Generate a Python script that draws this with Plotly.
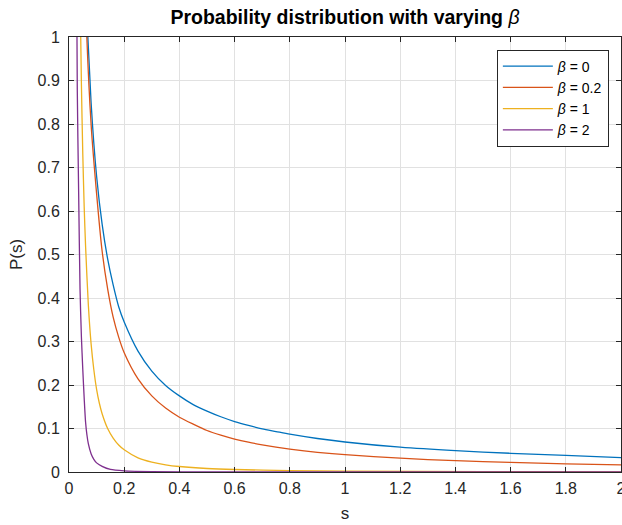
import plotly.graph_objects as go

# ---- data ----
s_b0 = [0.04, 0.06, 0.08, 0.10, 0.12, 0.14, 0.16, 0.18, 0.20, 0.25, 0.30, 0.35, 0.40, 0.45,
        0.50, 0.55, 0.60, 0.65, 0.70, 0.75, 0.80, 0.90, 1.00, 1.20, 1.40, 1.60, 1.80, 2.00]
p_b0 = [1.70, 1.13, 0.85, 0.68, 0.57, 0.49, 0.43, 0.38, 0.345, 0.278, 0.232, 0.199, 0.175, 0.155,
        0.14, 0.127, 0.116, 0.107, 0.099, 0.093, 0.087, 0.077, 0.069, 0.057, 0.049, 0.043, 0.038, 0.033]

s_b02 = [0.04, 0.06, 0.08, 0.10, 0.12, 0.14, 0.16, 0.18, 0.20, 0.25, 0.30, 0.35, 0.40, 0.45,
         0.50, 0.55, 0.60, 0.65, 0.70, 0.75, 0.80, 0.90, 1.00, 1.20, 1.40, 1.60, 1.80, 2.00]
p_b02 = [1.65, 1.08, 0.80, 0.64, 0.508, 0.421, 0.356, 0.310, 0.274, 0.214, 0.175, 0.147, 0.126, 0.110,
         0.0954, 0.0848, 0.0758, 0.0685, 0.0624, 0.0570, 0.0525, 0.0453, 0.0398, 0.0317, 0.0260,
         0.0220, 0.0189, 0.0164]

s_b1 = [0.035, 0.04, 0.045, 0.05, 0.055, 0.06, 0.07, 0.08, 0.09, 0.10, 0.11, 0.12, 0.14,
        0.16, 0.18, 0.20, 0.25, 0.30, 0.35, 0.40, 0.50, 0.60, 0.80, 1.00, 1.50, 2.00]
p_b1 = [1.45, 1.12, 0.89, 0.73, 0.61, 0.52, 0.385, 0.295, 0.235, 0.19, 0.158, 0.134, 0.100,
        0.078, 0.062, 0.051, 0.0326, 0.0227, 0.0166, 0.0127, 0.0081, 0.0057, 0.0032, 0.0021, 0.0009, 0.0005]

s_b2 = [0.02, 0.025, 0.03, 0.035, 0.04, 0.045, 0.05, 0.055, 0.06, 0.065, 0.07, 0.08, 0.09, 0.10,
        0.12, 0.15, 0.20, 0.30, 0.50, 1.00, 2.00]
p_b2 = [2.50, 1.50, 0.88, 0.64, 0.42, 0.31, 0.235, 0.17, 0.115, 0.085, 0.065, 0.042, 0.029, 0.021,
        0.013, 0.0058, 0.0026, 0.0008, 0.0002, 0.00002, 0.0]

series = [
    ("<i>β</i> = 0", s_b0, p_b0, "#0072BD"),
    ("<i>β</i> = 0.2", s_b02, p_b02, "#D95319"),
    ("<i>β</i> = 1", s_b1, p_b1, "#EDB120"),
    ("<i>β</i> = 2", s_b2, p_b2, "#7E2F8E"),
]

x_ticks = [0, 0.2, 0.4, 0.6, 0.8, 1, 1.2, 1.4, 1.6, 1.8, 2]
y_ticks = [0, 0.1, 0.2, 0.3, 0.4, 0.5, 0.6, 0.7, 0.8, 0.9, 1]

FONT = "Liberation Sans, Arial, Helvetica, sans-serif"
AX = "#262626"
GRID = "#e1e1e1"

fig = go.Figure()
for name, xs, ys, col in series:
    fig.add_trace(go.Scatter(x=xs, y=ys, mode="lines", name=name,
                             line=dict(color=col, width=1.3, shape="spline", smoothing=0.7)))

axis_common = dict(showline=True, linecolor=AX, linewidth=1, mirror="ticks",
                   ticks="inside", ticklen=5, tickcolor=AX, tickwidth=1,
                   showgrid=True, gridcolor=GRID, gridwidth=1, zeroline=False,
                   ticklabeloverflow="allow", automargin=False,
                   tickfont=dict(family=FONT, size=16, color=AX))

fig.update_layout(
    width=622, height=525,
    margin=dict(l=69, r=1, t=37, b=53),
    paper_bgcolor="white", plot_bgcolor="white",
    font=dict(family=FONT, color=AX),
    title=dict(text="<b>Probability distribution with varying </b><i>β</i>",
               x=(69 + 621) / 2 / 622, xanchor="center", y=1 - 17 / 525, yanchor="middle",
               font=dict(family=FONT, size=19.5, color="black")),
    xaxis=dict(range=[0, 2], tickvals=x_ticks, ticktext=[f"{v:g}" for v in x_ticks],
               ticklabelstandoff=2,
               title=dict(text="s", font=dict(family=FONT, size=17, color=AX), standoff=10),
               **axis_common),
    yaxis=dict(range=[0, 1], tickvals=y_ticks, ticktext=[f"{v:g}" for v in y_ticks],
               ticklabelstandoff=5,
               title=dict(text="P(s)", font=dict(family=FONT, size=17, color=AX), standoff=10),
               **axis_common),
    legend=dict(x=0.978, xanchor="right", y=0.971, yanchor="top",
                bgcolor="white", bordercolor=AX, borderwidth=1,
                font=dict(family=FONT, size=14, color="black"),
                tracegroupgap=0, itemwidth=50),
    showlegend=True,
)

fig.write_html("out.html")
